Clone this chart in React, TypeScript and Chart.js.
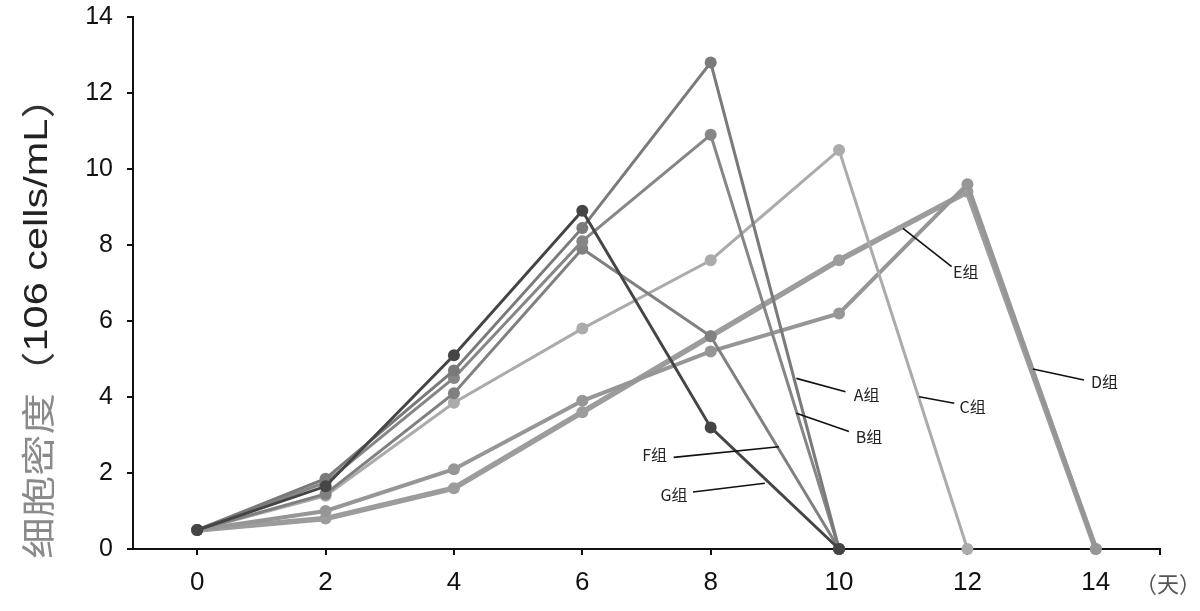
import { useEffect, useRef } from 'react';
import { Chart, registerables } from 'chart.js';

Chart.register(...registerables);

// Days (x values)
const days = [0, 2, 4, 6, 8, 10, 12, 14];

// Cell density (10^6 cells/mL) per group
const groupA = [0.5, 1.85, 4.7, 8.45, 12.8, 0, null, null];
const groupB = [0.5, 1.75, 4.5, 8.1, 10.9, 0, null, null];
const groupC = [0.5, 1.4, 3.85, 5.8, 7.6, 10.5, 0, null];
const groupD = [0.5, 1.0, 2.1, 3.9, 5.2, 6.2, 9.6, 0];
const groupE = [0.5, 0.8, 1.6, 3.6, 5.6, 7.6, 9.4, 0];
const groupF = [0.5, 1.45, 4.1, 7.9, 5.6, 0, null, null];
const groupG = [0.5, 1.65, 5.1, 8.9, 3.2, 0, null, null];

const xTickValues = [0, 2, 4, 6, 8, 10, 12, 14, 15];
const xTickLabels = ['0', '2', '4', '6', '8', '10', '12', '14', ''];

const yTitleCn = '细胞密度';
const yTitleEn = '106 cells/mL';
const xUnit = '（天）';

// Callout labels (data coordinates)
const callouts = [
  { text: 'A组', x1: 9.335, y1: 4.49, x2: 10.1, y2: 4.14, tx: 10.23, ty: 4.05, align: 'left' },
  { text: 'B组', x1: 9.335, y1: 3.57, x2: 10.154, y2: 3.09, tx: 10.26, ty: 2.955, align: 'left' },
  { text: 'C组', x1: 11.248, y1: 4.008, x2: 11.795, y2: 3.834, tx: 11.876, ty: 3.737, align: 'left' },
  { text: 'D组', x1: 13.02, y1: 4.737, x2: 13.815, y2: 4.447, tx: 13.925, ty: 4.4, align: 'left' },
  { text: 'E组', x1: 10.996, y1: 8.44, x2: 11.754, y2: 7.43, tx: 11.775, ty: 7.3, align: 'left' },
  { text: 'F组', x1: 9.062, y1: 2.69, x2: 7.423, y2: 2.41, tx: 7.32, ty: 2.47, align: 'right' },
  { text: 'G组', x1: 8.844, y1: 1.73, x2: 7.724, y2: 1.5, tx: 7.64, ty: 1.42, align: 'right' },
];

const toPoints = (vals: (number | null)[]) =>
  days.map((d, i) => ({ x: d, y: vals[i] })).filter((p) => p.y !== null);

const mk = (label: string, vals: (number | null)[], color: string, width: number) => ({
  label,
  data: toPoints(vals),
  borderColor: color,
  backgroundColor: color,
  pointBackgroundColor: color,
  pointBorderColor: color,
  pointBorderWidth: 0,
  pointRadius: 6,
  borderWidth: width,
  tension: 0,
  clip: false as any,
});

const calloutPlugin = {
  id: 'callouts',
  afterDatasetsDraw(chart: any) {
    const { ctx, scales } = chart;
    const xs = scales.x;
    const ys = scales.y;
    ctx.save();
    callouts.forEach((c) => {
      ctx.beginPath();
      ctx.strokeStyle = '#111';
      ctx.lineWidth = 1.6;
      ctx.moveTo(xs.getPixelForValue(c.x1), ys.getPixelForValue(c.y1));
      ctx.lineTo(xs.getPixelForValue(c.x2), ys.getPixelForValue(c.y2));
      ctx.stroke();
      ctx.fillStyle = '#222';
      ctx.font = '16px "Noto Sans CJK SC", "Liberation Sans", sans-serif';
      ctx.textAlign = c.align;
      ctx.textBaseline = 'middle';
      ctx.fillText(c.text, xs.getPixelForValue(c.tx), ys.getPixelForValue(c.ty));
    });
    ctx.restore();
  },
};

const titlePlugin = {
  id: 'yTitleCustom',
  afterDraw(chart: any) {
    const { ctx, chartArea } = chart;
    ctx.save();
    ctx.translate(38, 318);
    ctx.rotate(-Math.PI / 2);
    ctx.scale(1.22, 1);
    ctx.textBaseline = 'middle';
    ctx.textAlign = 'left';
    const fCn = '34px "Noto Sans CJK SC", sans-serif';
    const fEn = '34px "Liberation Sans", "Noto Sans CJK SC", sans-serif';
    const parts = [
      { t: yTitleCn, f: fCn, c: '#8a8a8a' },
      { t: '（', f: fCn, c: '#333' },
      { t: yTitleEn, f: fEn, c: '#222' },
      { t: '）', f: fCn, c: '#333' },
    ];
    let total = 0;
    parts.forEach((p) => {
      ctx.font = p.f;
      total += ctx.measureText(p.t).width;
    });
    let x = -total / 2;
    parts.forEach((p) => {
      ctx.font = p.f;
      ctx.fillStyle = p.c;
      ctx.fillText(p.t, x, 0);
      x += ctx.measureText(p.t).width;
    });
    ctx.restore();

    // x unit label
    ctx.save();
    ctx.font = '22px "Noto Sans CJK SC", sans-serif';
    ctx.fillStyle = '#555';
    ctx.textAlign = 'left';
    ctx.textBaseline = 'middle';
    ctx.fillText(xUnit, chartArea.right - 25, 584);
    ctx.restore();
  },
};

export default function App() {
  const ref = useRef<HTMLCanvasElement | null>(null);
  useEffect(() => {
    if (!ref.current) return;
    const chart = new Chart(ref.current, {
      type: 'line',
      data: {
        datasets: [
          mk('G组', groupG, '#454545', 3),
          mk('A组', groupA, '#7a7a7a', 3),
          mk('B组', groupB, '#868686', 3),
          mk('F组', groupF, '#808080', 3),
          mk('C组', groupC, '#ababab', 3),
          mk('D组', groupD, '#969696', 4),
          mk('E组', groupE, '#9c9c9c', 5.5),
        ] as any,
      },
      options: {
        responsive: false,
        animation: false,
        layout: { padding: { left: 0, right: 40, top: 17, bottom: 0 } },
        plugins: {
          legend: { display: false },
          tooltip: { enabled: false },
          title: { display: false },
        },
        scales: {
          x: {
            type: 'linear',
            min: -1,
            max: 15,
            afterBuildTicks: (scale: any) => {
              scale.ticks = xTickValues.map((v) => ({ value: v }));
            },
            afterFit: (scale: any) => {
              scale.height = 62;
              scale.paddingLeft = 0;
              scale.paddingRight = 0;
            },
            ticks: {
              autoSkip: false,
              maxRotation: 0,
              padding: 12,
              color: '#111',
              font: { family: '"Liberation Sans", Arial, sans-serif', size: 26 },
              callback: (v: any) => {
                const i = xTickValues.indexOf(Number(v));
                return i >= 0 ? xTickLabels[i] : '';
              },
            },
            grid: {
              display: true,
              drawOnChartArea: false,
              drawTicks: true,
              tickLength: 6,
              color: '#111',
              lineWidth: 2,
            },
            border: { display: true, color: '#111', width: 2 },
          },
          y: {
            type: 'linear',
            min: 0,
            max: 14,
            afterFit: (scale: any) => {
              scale.width = 133;
              scale.paddingTop = 0;
              scale.paddingBottom = 0;
            },
            ticks: {
              stepSize: 2,
              padding: 14,
              color: '#111',
              font: { family: '"Liberation Sans", Arial, sans-serif', size: 25 },
            },
            grid: {
              display: true,
              drawOnChartArea: false,
              drawTicks: true,
              tickLength: 6,
              color: '#111',
              lineWidth: 2,
            },
            border: { display: true, color: '#111', width: 2 },
          },
        },
      },
      plugins: [calloutPlugin, titlePlugin],
    });
    return () => chart.destroy();
  }, []);
  return (
    <div style={{ position: 'fixed', left: 0, top: 0, width: 1200, height: 611, background: '#fff' }}>
      <canvas ref={ref} width={1200} height={611} />
    </div>
  );
}
